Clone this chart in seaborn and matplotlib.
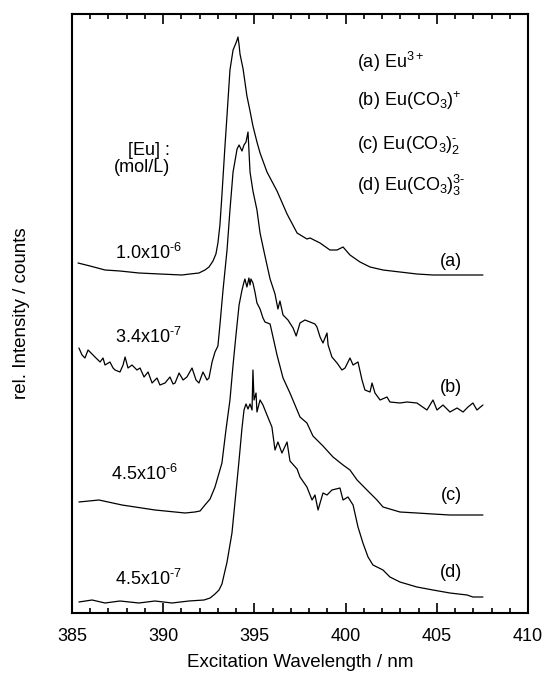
import pandas as pd
import seaborn as sns
import matplotlib
matplotlib.use('Agg')
import matplotlib.pyplot as plt
from matplotlib.ticker import MultipleLocator

# spectra (wavelength in nm, intensity in arbitrary offset units)
wl_a = [385.33, 385.99, 386.81, 387.63, 388.67, 389.82, 391.03, 391.47, 391.96, 392.29,
        392.51, 392.73, 392.89, 393.00, 393.11, 393.22, 393.39, 393.50, 393.66, 393.83,
        393.99, 394.05, 394.10, 394.16, 394.21, 394.38, 394.59, 394.76, 394.92, 395.14,
        395.31, 395.69, 396.24, 396.79, 397.34, 397.88, 398.05, 398.60, 399.14, 399.53,
        399.86, 400.24, 400.79, 401.34, 402.05, 402.98, 403.91, 404.79, 405.72, 406.66, 407.53]
int_a = [350, 347, 343, 342, 340, 339, 338, 339, 340, 343,
         346, 352, 359, 370, 388, 418, 468, 498, 543, 563,
         570, 573, 576, 568, 559, 544, 517, 502, 487, 471,
         460, 441, 422, 399, 380, 374, 375, 370, 363, 363,
         366, 358, 351, 346, 343, 341, 339, 338, 338, 338, 338]

wl_b = [385.38, 385.55, 385.71, 385.88, 385.99, 386.26, 386.54, 386.70, 386.81, 387.08,
        387.25, 387.36, 387.63, 387.80, 387.91, 388.07, 388.29, 388.56, 388.73, 388.95,
        389.17, 389.39, 389.66, 389.82, 390.10, 390.37, 390.54, 390.65, 390.87, 391.09,
        391.30, 391.58, 391.80, 391.96, 392.18, 392.40, 392.51, 392.68, 392.84, 393.00,
        393.11, 393.28, 393.50, 393.66, 393.83, 394.05, 394.16, 394.32, 394.43, 394.54,
        394.65, 394.76, 394.92, 395.14, 395.31, 395.58, 395.86, 396.13, 396.29, 396.40,
        396.57, 396.84, 397.12, 397.29, 397.50, 397.77, 398.05, 398.32, 398.43, 398.60,
        398.76, 398.98, 399.04, 399.25, 399.53, 399.80, 399.97, 400.24, 400.41, 400.68,
        400.90, 401.06, 401.34, 401.45, 401.61, 401.89, 402.27, 402.43, 402.98, 403.37,
        403.91, 404.46, 404.79, 405.01, 405.34, 405.72, 406.11, 406.44, 406.71, 406.98,
        407.20, 407.53]
int_b = [265, 258, 255, 263, 261, 256, 251, 255, 248, 251,
         245, 243, 241, 248, 256, 245, 248, 243, 245, 236,
         241, 230, 235, 228, 230, 236, 229, 230, 240, 233,
         236, 245, 233, 230, 241, 233, 235, 251, 261, 267,
         288, 323, 363, 403, 441, 464, 468, 462, 468, 471,
         481, 441, 422, 403, 380, 357, 334, 319, 304, 312,
         298, 293, 285, 277, 290, 293, 291, 289, 286, 276,
         270, 280, 268, 256, 250, 243, 245, 255, 248, 251,
         233, 223, 221, 230, 220, 213, 216, 211, 210, 211,
         210, 203, 213, 203, 208, 201, 205, 201, 206, 210,
         203, 208]

wl_c = [385.38, 386.48, 387.74, 389.55, 391.20, 391.74, 392.02, 392.29, 392.57, 392.84,
        393.22, 393.44, 393.66, 393.83, 393.99, 394.16, 394.32, 394.43, 394.48, 394.59,
        394.70, 394.76, 394.81, 394.92, 395.03, 395.14, 395.31, 395.47, 395.58, 395.86,
        396.24, 396.57, 396.95, 397.50, 397.88, 398.21, 398.76, 399.31, 399.86, 400.24,
        400.63, 401.17, 401.72, 402.05, 402.98, 403.91, 404.79, 405.72, 407.53]
int_c = [111, 113, 108, 103, 100, 101, 102, 108, 114, 126,
         150, 183, 213, 248, 278, 308, 323, 331, 334, 326,
         335, 328, 334, 330, 321, 310, 304, 295, 291, 289,
         258, 235, 220, 196, 190, 177, 167, 156, 148, 143,
         133, 123, 113, 106, 101, 100, 99, 98, 98]

wl_d = [385.38, 386.10, 386.81, 387.63, 388.67, 389.55, 390.48, 391.41, 392.24, 392.57,
        392.84, 393.06, 393.22, 393.50, 393.77, 393.99, 394.16, 394.32, 394.43, 394.54,
        394.65, 394.76, 394.87, 394.92, 394.98, 395.09, 395.14, 395.31, 395.47, 395.69,
        395.96, 396.13, 396.29, 396.51, 396.79, 396.95, 397.34, 397.50, 397.88, 398.16,
        398.32, 398.49, 398.76, 398.98, 399.25, 399.69, 399.86, 400.13, 400.41, 400.68,
        400.95, 401.23, 401.50, 402.05, 402.43, 402.98, 403.91, 404.79, 405.72, 406.66,
        406.98, 407.53]
int_d = [11, 13, 10, 12, 10, 12, 10, 12, 13, 15,
         19, 23, 29, 51, 80, 121, 153, 185, 203, 209,
         204, 209, 203, 243, 213, 220, 201, 213, 208, 198,
         186, 163, 171, 160, 171, 152, 144, 136, 126, 113,
         118, 103, 120, 118, 123, 125, 113, 116, 108, 86,
         70, 56, 48, 43, 36, 31, 26, 23, 20, 18,
         16, 16]

species = [r'(a) Eu$^{3+}$', r'(b) Eu(CO$_3$)$^{+}$',
           r'(c) Eu(CO$_3$)$_2^{\text{-}}$', r'(d) Eu(CO$_3$)$_3^{3\text{-}}$']
species_y = [545, 507, 464, 422]
conc = [r'1.0x10$^{\text{-}6}$', r'3.4x10$^{\text{-}7}$',
        r'4.5x10$^{\text{-}6}$', r'4.5x10$^{\text{-}7}$']
conc_x = [389.17, 389.20, 388.95, 389.17]
conc_y = [354, 270, 133, 28]
tags = ['(a)', '(b)', '(c)', '(d)']
tags_y = [347, 221, 113, 36]

sns.set_theme(style='white')
plt.rcParams['font.family'] = ['Liberation Sans', 'DejaVu Sans']
plt.rcParams['mathtext.fontset'] = 'custom'
plt.rcParams['mathtext.rm'] = 'Liberation Sans'
plt.rcParams['mathtext.default'] = 'regular'
plt.rcParams['text.color'] = 'black'
plt.rcParams['axes.labelcolor'] = 'black'
plt.rcParams['xtick.color'] = 'black'

fig = plt.figure(figsize=(5.47, 6.77), dpi=100)
ax = fig.add_axes([72/547, 64/677, 456/547, 599/677])

for wl, inten in [(wl_a, int_a), (wl_b, int_b), (wl_c, int_c), (wl_d, int_d)]:
    df = pd.DataFrame({'wl': wl, 'I': inten})
    sns.lineplot(data=df, x='wl', y='I', ax=ax, color='black', lw=0.9,
                 sort=False, estimator=None)

ax.set_xlim(385, 410)
ax.set_ylim(0, 599)
ax.xaxis.set_major_locator(MultipleLocator(5))
ax.xaxis.set_minor_locator(MultipleLocator(1))
ax.tick_params(axis='x', which='both', direction='in', top=True, bottom=True,
               labelsize=13, width=1.2, pad=11)
ax.tick_params(axis='x', which='major', length=7.2)
ax.tick_params(axis='x', which='minor', length=3.6)
ax.set_yticks([])
for s in ax.spines.values():
    s.set_linewidth(1.5)
    s.set_color('black')

ax.set_xlabel('Excitation Wavelength / nm', fontsize=13.5, labelpad=6)
ax.set_ylabel('rel. Intensity / counts', fontsize=13.5)
ax.yaxis.label.set_va('center')
ax.yaxis.set_label_coords(-0.11, 0.5)

for lab, y in zip(species, species_y):
    ax.text(400.6, y, lab, fontsize=13, ha='left', va='baseline')
for lab, x, y in zip(conc, conc_x, conc_y):
    ax.text(x, y, lab, fontsize=13, ha='center', va='baseline')
for lab, y in zip(tags, tags_y):
    ax.text(405.78, y, lab, fontsize=13, ha='center', va='baseline')
ax.text(390.35, 458, '[Eu] :', fontsize=13, ha='right', va='baseline')
ax.text(390.4, 441, '(mol/L)', fontsize=13, ha='right', va='baseline')

fig.savefig('out.png', dpi=100)
